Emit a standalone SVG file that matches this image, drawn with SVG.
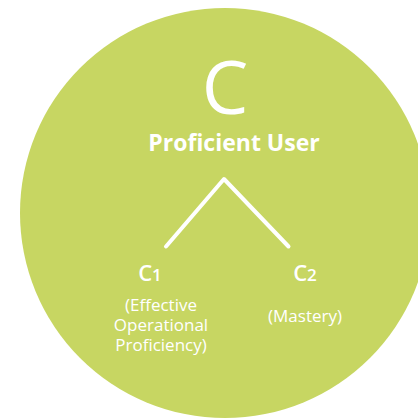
<svg xmlns="http://www.w3.org/2000/svg" width="418" height="419" viewBox="0 0 418 419">
<style>
text{font-family:"Open Sans","Noto Sans","Liberation Sans",sans-serif;fill:#fff;text-anchor:middle}
.big{font-size:74px}
.title{font-size:23px;font-weight:bold}
.sub{font-size:22px;font-weight:600}
.desc{font-size:17px}
.conn{stroke:#fff;stroke-width:4;fill:none;stroke-linecap:round;stroke-linejoin:round}
</style>
<rect width="418" height="419" fill="#fff"/>
<g id="circle"><circle cx="225" cy="213" r="205" fill="#c7d662"/></g>
<g id="C">
<text class="big" x="225" y="114">C</text>
<text class="title" x="234" y="151">Proficient User</text>
</g>
<g id="connectors">
<path class="conn" d="M166,246.5 L224,179 L288.5,246.5"/>
</g>
<g id="C1">
<text class="sub" x="150" y="281">C<tspan font-size="17">1</tspan></text>
<text class="desc" x="161" y="311">(Effective</text>
<text class="desc" x="161" y="331">Operational</text>
<text class="desc" x="161" y="351">Proficiency)</text>
</g>
<g id="C2">
<text class="sub" x="305" y="281">C<tspan font-size="17">2</tspan></text>
<text class="desc" x="305" y="322">(Mastery)</text>
</g>
</svg>
